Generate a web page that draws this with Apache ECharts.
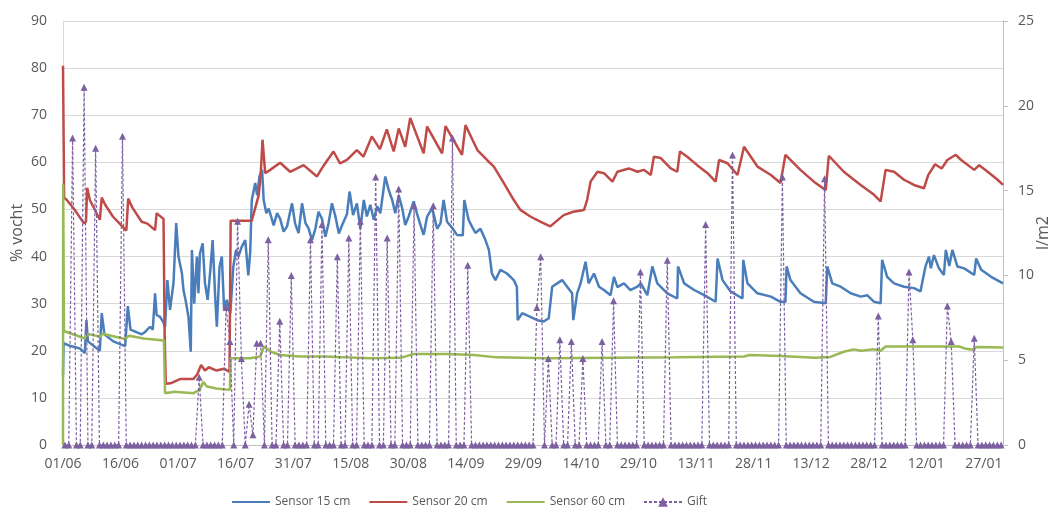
<!DOCTYPE html>
<html>
<head>
<meta charset="utf-8">
<script src="https://cdn.jsdelivr.net/npm/echarts@6/dist/echarts.min.js"></script>
<style>
  html, body { margin: 0; padding: 0; background: #fff; }
  #chart { width: 1054px; height: 514px; }
</style>
</head>
<body>
<div id="chart"></div>
<script>
// day 0 = 01/06
const tickDays = [0, 15, 30, 45, 60, 75, 90, 105, 120, 135, 150, 165, 180, 195, 210, 225, 240]

// [day, % vocht]
const sensor15 = [
  [0, 14.8], [0.15, 21.6], [2, 21], [4.4, 20.5], [5.7, 19.5], [6.1, 26.5], [6.5, 22], [9.6, 20], [10.1, 28], [10.8, 23.5],
  [13.1, 22], [16.2, 21], [16.9, 29.5], [17.6, 24.5], [20.5, 23.5], [21.4, 24], [22.7, 25.1], [23.4, 24.5], [24, 32.2], [24.4, 27.6],
  [25.3, 27.2], [26.2, 26], [26.6, 25], [27.2, 35], [27.9, 28.7], [28.8, 34.4], [29.5, 47.1], [30.1, 40], [31, 36.4], [31.4, 32.9],
  [32, 30.5], [32.7, 27.2], [33.3, 19.8], [33.6, 41.4], [34.2, 30], [34.9, 40], [35.3, 32.2], [35.7, 40.7], [36.4, 42.8], [37, 34.4],
  [37.7, 30.8], [38.4, 37.1], [39, 43.5], [39.7, 30.8], [40.1, 25.1], [40.8, 37.9], [41.4, 40], [42, 28.7], [42.7, 30.8], [43.6, 27.9],
  [44, 32.9], [44.4, 37.9], [45.1, 41.4], [45.7, 40], [46.6, 42.1], [47.5, 43.5], [48.3, 36], [48.8, 41], [49.2, 52], [50.1, 55.6],
  [50.6, 53], [51.2, 57], [51.9, 58.4], [52.3, 52], [53, 49.2], [53.6, 50.2], [54.5, 47.8], [54.9, 46.6], [55.8, 49.2], [56.6, 48],
  [57.5, 45.3], [58.4, 46.4], [59.2, 49.5], [59.7, 51.3], [60.5, 47], [61.4, 45], [62.3, 51.3], [63.2, 47.1], [64, 46], [64.9, 43.5],
  [65.8, 46], [66.6, 49.5], [67.5, 48], [68.4, 44.2], [69.2, 47], [70.1, 51.3], [71, 48.5], [71.9, 44.9], [72.7, 46.6], [74, 49],
  [74.7, 53.8], [75.6, 48.8], [76.6, 51.3], [77.5, 45.9], [78.4, 52], [79.2, 48.5], [80.1, 51], [81, 47.8], [81.9, 50.7], [82.7, 49.2],
  [84, 57], [84.9, 54.1], [85.8, 52], [86.6, 49.2], [87.5, 53], [88.4, 50.3], [89.2, 46.7], [90.1, 48.5], [91.4, 51.7], [92.3, 49],
  [93.2, 46.6], [94, 44.6], [94.9, 48.5], [96.2, 50.3], [96.6, 49], [97.5, 45.9], [98.4, 47.1], [99.2, 52], [100.1, 47.4], [101.4, 46.1],
  [102.7, 44.6], [104.2, 44.5], [104.6, 52], [105.7, 47.8], [106.5, 46.5], [107.5, 45], [108.8, 45.9], [110.1, 43.5], [111, 41.4], [111.8, 36.4],
  [112.7, 35], [114, 37.2], [115.7, 36.4], [117.5, 35], [118.3, 33.6], [118.5, 26.5], [119.7, 28], [121.8, 27.2], [123.6, 26.5], [125.3, 26.2],
  [126.6, 26.9], [127.5, 33.6], [128.8, 34.3], [130.1, 35], [131.4, 33.6], [132.7, 32.2], [133, 26.5], [134, 32.2], [134.9, 34.3], [135.3, 34],
  [136.2, 38.9], [137, 34.3], [138.4, 36.4], [139.7, 33.6], [141, 32.9], [142.7, 31.8], [143.6, 35.7], [144.5, 33.5], [146.2, 34.3], [147.9, 32.9],
  [149.7, 33.6], [150.6, 34.3], [152.3, 31.8], [153.6, 37.9], [154.9, 34.3], [157.5, 32.2], [160.1, 31.1], [160.3, 37.9], [161.9, 34.3], [164.5, 32.9],
  [167.1, 31.8], [170.1, 30.4], [170.6, 39.6], [171.9, 35], [174, 32.6], [177.1, 31.1], [177.3, 39.3], [178.4, 34.3], [181, 32.2], [184.5, 31.5],
  [187, 30.4], [188.3, 30.4], [188.6, 37.9], [189.6, 35], [192.2, 32.2], [195.7, 30.4], [198.8, 30.1], [199.2, 37.9], [200.5, 34.3], [202.7, 33.6],
  [205.3, 32.2], [207.9, 31.5], [209.6, 31.8], [211.4, 30.4], [213.1, 30.1], [213.5, 39.3], [214.8, 35.7], [216.6, 34.3], [219.2, 33.6], [221.8, 33.3],
  [223.5, 32.6], [224, 34.7], [224.8, 37.9], [225.7, 40], [226.2, 37.5], [227, 40.3], [228.3, 37.5], [229.6, 36.1], [230.1, 41.4], [231, 38],
  [231.8, 41.4], [233.1, 37.9], [234.9, 37.5], [237.5, 36.1], [238, 39.6], [239.3, 37.2], [241.9, 35.7], [245, 34.3]
]

const sensor20 = [
  [0, 80.5], [0.3, 52.5], [1, 52], [3, 50], [5.5, 47], [6, 47.5], [6.3, 54.6], [7, 52], [9.6, 47.8], [10.1, 52.5],
  [11, 51], [13, 48.5], [16.5, 45.5], [17, 52.3], [18, 50.5], [20.5, 47.4], [22, 47], [24, 45.6], [24.4, 49.2], [25, 48.8],
  [26.2, 48], [26.5, 23], [26.8, 13], [28, 13.1], [30.5, 14], [34, 14], [35, 15], [36, 17], [37, 15.8], [38, 16.5],
  [40, 15.8], [42, 16.2], [43.4, 15.5], [43.7, 47.6], [49.2, 47.6], [50, 50], [51, 53], [51.5, 57], [52, 64.8], [52.7, 57.7],
  [54, 58.4], [56.6, 59.9], [59.2, 58], [62.7, 59.4], [66.2, 57], [68, 59.4], [70.5, 62.3], [72.2, 59.8], [74, 60.5], [76.6, 62.6],
  [78.3, 61.2], [80.5, 65.5], [82.6, 62.8], [84.4, 67], [86.2, 62.3], [87.5, 67.2], [89.2, 63.3], [90.5, 69.4], [94, 61.9], [94.9, 67.6],
  [98.8, 61.9], [99.7, 67.7], [104, 61.6], [104.9, 67.9], [108, 62.6], [110.5, 60.5], [112.3, 59.1], [114.9, 55.6], [117.5, 52], [119.2, 49.9],
  [121.8, 48.5], [124.4, 47.4], [127, 46.4], [128, 47.1], [130.5, 48.8], [133, 49.5], [135.8, 49.9], [136.6, 52], [137.5, 55.9], [139.3, 58],
  [141, 57.7], [143.2, 55.9], [144.5, 58], [147.5, 58.7], [149.7, 58], [151.4, 58.4], [153.2, 57.3], [154, 61.2], [155.8, 60.9], [158.4, 58.7],
  [160.1, 58], [160.8, 62.3], [162.7, 61.2], [165.3, 59.4], [168, 57.7], [170.1, 55.9], [171, 60.5], [173.2, 59.8], [175.8, 57.3], [177.5, 63.3],
  [181, 59.1], [184.5, 57.3], [187, 55.6], [188.3, 61.6], [192.2, 58.4], [195.7, 55.9], [198.8, 54.1], [199.6, 61.4], [203.5, 58], [207.9, 55.2],
  [211.4, 53.1], [213.1, 51.7], [214.4, 58.4], [216.6, 58], [219.2, 56.3], [221.8, 55.2], [224.4, 54.5], [225.5, 57.3], [227.3, 59.6], [229, 58.7],
  [230.5, 60.5], [232.7, 61.6], [234.1, 60.5], [237.5, 58.4], [238.8, 59.4], [241, 58], [243.6, 56.3], [245, 55.2]
]

const sensor60 = [
  [0, 0], [0.05, 55.5], [0.25, 24.2], [5.7, 22.6], [6.3, 23.6], [9.7, 23], [10.3, 23.6], [16.2, 22.5], [17.2, 23.2], [21, 22.6],
  [26.3, 22.2], [26.6, 11], [29, 11.3], [34, 11], [35.6, 11.7], [36.6, 13.4], [37.5, 12.4], [40, 12], [43.5, 11.7], [43.7, 18.4],
  [48.8, 18.4], [51.4, 18.8], [52.4, 20.9], [54.2, 19.8], [56.6, 19.1], [61.8, 18.8], [68, 18.8], [80, 18.4], [88, 18.5], [91.4, 19.3],
  [100, 19.3], [107, 19.1], [113.1, 18.6], [126.2, 18.4], [160, 18.6], [177.5, 18.8], [179, 19.1], [187, 18.9], [196, 18.5], [200, 18.7],
  [203.5, 19.8], [206.1, 20.3], [208, 20], [211.4, 20.3], [213.1, 20], [214.4, 20.9], [233.6, 20.9], [235, 20.5], [237.1, 20.2], [238, 20.8],
  [245, 20.7]
]

// rain days (day index) and amount in l/m2, all other days 0
const giftDays = [2, 5, 8, 15, 35, 42, 43, 45, 46, 48, 49, 50, 51, 53, 56, 59, 64, 67, 71, 74, 77, 81, 84, 87, 91, 96, 101, 105,
  123, 124, 126, 129, 132, 135, 140, 143, 150, 157, 167, 174, 187, 198, 212, 220, 221, 230, 231, 237]
const giftMm = [18.1, 21.1, 17.5, 18.2, 4.0, 8.1, 6.1, 13.2, 5.1, 2.4, 0.6, 6.0, 6.0, 12.1, 7.3, 10.0, 12.1, 13.0, 11.1, 12.2, 13.2, 15.8, 12.2, 15.1, 14.1, 14.1, 18.1, 10.6,
  8.1, 11.1, 5.1, 6.2, 6.1, 5.1, 6.1, 8.5, 10.2, 10.9, 13.0, 17.1, 15.8, 15.7, 7.6, 10.2, 6.2, 8.2, 6.1, 6.3]
const giftCount = 245

const gift = []
for (let i = 0; i < giftCount; i++) {
  const k = giftDays.indexOf(i)
  gift.push([i + 0.5, k >= 0 ? giftMm[k] : 0])
}

const FONT = "'Open Sans', sans-serif"
const TEXT = '#595959'
const BLUE = '#4A7EBB'
const RED = '#BE4B48'
const GREEN = '#98B954'
const PURPLE = '#7D60A0'

function dayLabel(v) {
  if (tickDays.indexOf(v) < 0) return ''
  const d = new Date(Date.UTC(2019, 5, 1) + v * 86400000)
  const dd = String(d.getUTCDate()).padStart(2, '0')
  const mm = String(d.getUTCMonth() + 1).padStart(2, '0')
  return dd + '/' + mm
}

// hide the dot that line series put in their legend icon
const noDot = { opacity: 0, borderWidth: 0 }

const chart = echarts.init(document.getElementById('chart'))
chart.setOption({
  animation: false,
  textStyle: { fontFamily: FONT },
  grid: { left: 63, right: 51, top: 21, bottom: 69, outerBoundsMode: 'none', containLabel: false },
  legend: {
    left: 226,
    top: 491,
    itemWidth: 38,
    itemHeight: 12,
    itemGap: 18,
    textStyle: { color: TEXT, fontSize: 12, fontFamily: FONT },
    data: [
      { name: 'Sensor 15 cm', itemStyle: noDot },
      { name: 'Sensor 20 cm', itemStyle: noDot },
      { name: 'Sensor 60 cm', itemStyle: noDot },
      { name: 'Gift' }
    ]
  },
  xAxis: {
    type: 'value',
    min: 0,
    max: 245,
    interval: 15,
    axisLine: { show: true, lineStyle: { color: '#bfbfbf' } },
    axisTick: { show: false },
    splitLine: { show: false },
    axisLabel: { color: TEXT, fontSize: 14, margin: 12, formatter: dayLabel, showMaxLabel: false }
  },
  yAxis: [
    {
      type: 'value',
      min: 0,
      max: 90,
      interval: 10,
      name: '% vocht',
      nameLocation: 'middle',
      nameRotate: 90,
      nameGap: 38,
      nameMoveOverlap: false,
      nameTextStyle: { color: TEXT, fontSize: 16 },
      axisLine: { show: true, lineStyle: { color: '#d9d9d9' } },
      axisTick: { show: false },
      splitLine: { lineStyle: { color: '#d9d9d9' } },
      axisLabel: { color: TEXT, fontSize: 14, margin: 16 }
    },
    {
      type: 'value',
      min: 0,
      max: 25,
      interval: 5,
      name: 'l/m2',
      nameLocation: 'middle',
      nameRotate: 90,
      nameGap: 32,
      nameMoveOverlap: false,
      nameTextStyle: { color: TEXT, fontSize: 16 },
      axisLine: { show: true, lineStyle: { color: '#bfbfbf' } },
      axisTick: { show: true, length: 5, lineStyle: { color: '#bfbfbf' } },
      splitLine: { show: false },
      axisLabel: { color: TEXT, fontSize: 14, margin: 15 }
    }
  ],
  series: [
    {
      name: 'Sensor 15 cm',
      type: 'line',
      symbol: 'none',
      data: sensor15,
      lineStyle: { color: BLUE, width: 2.5 },
      itemStyle: { color: BLUE }
    },
    {
      name: 'Sensor 20 cm',
      type: 'line',
      symbol: 'none',
      data: sensor20,
      lineStyle: { color: RED, width: 2.5 },
      itemStyle: { color: RED }
    },
    {
      name: 'Sensor 60 cm',
      type: 'line',
      symbol: 'none',
      data: sensor60,
      lineStyle: { color: GREEN, width: 2.5 },
      itemStyle: { color: GREEN }
    },
    {
      name: 'Gift',
      type: 'line',
      yAxisIndex: 1,
      clip: false,
      symbol: 'triangle',
      symbolSize: 7,
      data: gift,
      lineStyle: { color: PURPLE, width: 1.2, type: [3, 2] },
      itemStyle: { color: PURPLE }
    }
  ]
})
</script>
</body>
</html>
